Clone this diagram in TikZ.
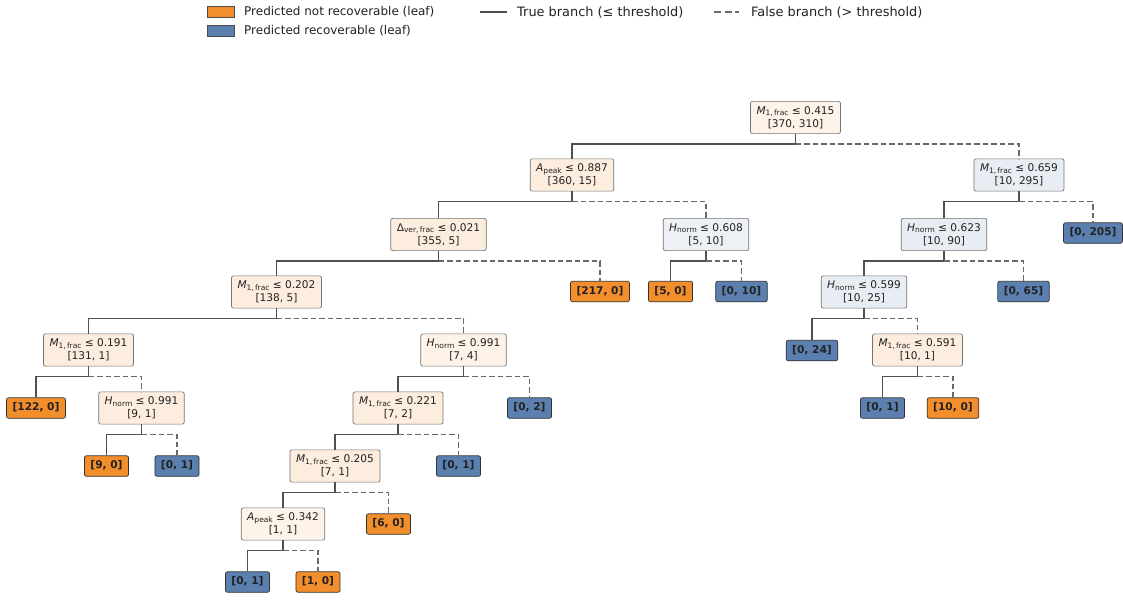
\documentclass[tikz,border=0pt]{standalone}
\usepackage{fontspec}
\setmainfont{DejaVu Sans}
\definecolor{leafO}{RGB}{242,142,43}
\definecolor{leafB}{RGB}{91,128,176}
\definecolor{peach}{RGB}{253,237,222}
\definecolor{peachL}{RGB}{254,243,233}
\definecolor{bluish}{RGB}{232,237,243}
\definecolor{bluishL}{RGB}{237,241,245}
\definecolor{edgec}{RGB}{80,80,80}
\definecolor{txt}{RGB}{34,34,34}
\newcommand{\sbx}[1]{\raisebox{-0.3ex}{\fontsize{7.5}{8}\selectfont #1}}
\newcommand{\Mf}{\textit{M}\sbx{1,\,frac}}
\newcommand{\Hn}{\textit{H}\sbx{norm}}
\newcommand{\Ap}{\textit{A}\sbx{peak}}
\newcommand{\Dv}{Δ\sbx{ver,\,frac}}
\tikzset{
  inner/.style={draw=black!55, line width=0.7pt, rounded corners=2pt, align=center,
    font=\fontsize{10.6}{13}\selectfont, text=txt, inner xsep=6pt, inner ysep=5pt},
  leafo/.style={draw=black!80, line width=0.7pt, rounded corners=2pt, fill=leafO,
    font=\fontsize{10.6}{13}\selectfont\bfseries, text=txt, inner xsep=6pt, inner ysep=5pt,
    text height=8pt, text depth=2.5pt},
  leafb/.style={leafo, fill=leafB},
  tb/.style={draw=edgec, line width=1.1pt},
  fb/.style={draw=edgec!85, line width=1.1pt, dash pattern=on 5.5pt off 3pt},
  legtxt/.style={font=\fontsize{12}{14}\selectfont, text=txt, anchor=west, inner sep=0pt}
}
\newcommand{\split}[3]{%
  \coordinate (#1m) at ([yshift=-26.5pt]#1.center);
  \draw[tb] (#1.south) -- (#1m) -| (#2.north);
  \draw[fb] (#1m) -| (#3.north);}
\begin{document}
\begin{tikzpicture}[x=1pt,y=-1pt]
\useasboundingbox (0,0) rectangle (1123,599);
\fill[white] (0,0) rectangle (1123,599);
% legend
\node[draw=black!70, line width=0.5pt, fill=leafO, minimum width=27pt, minimum height=11pt, inner sep=0pt] (sw1) at (220.5,12) {};
\node[legtxt] (lt1) at (244,12) {Predicted not recoverable (leaf)};
\node[draw=black!70, line width=0.5pt, fill=leafB, minimum width=27pt, minimum height=11pt, inner sep=0pt] (sw2) at (220.5,31) {};
\node[legtxt] (lt2) at (244,31) {Predicted recoverable (leaf)};
\coordinate (ls1) at (480,12); \coordinate (ls2) at (507,12);
\draw[tb] (ls1) -- (ls2);
\node[legtxt, font=\fontsize{12.9}{14}\selectfont] (lt3) at (517,12) {True branch (≤ threshold)};
\coordinate (ld1) at (714,12); \coordinate (ld2) at (738.5,12);
\draw[fb, dash pattern=on 7.3pt off 3.4pt] (ld1) -- (ld2);
\node[legtxt, font=\fontsize{12.9}{14}\selectfont] (lt4) at (751,12) {False branch (> threshold)};
% nodes
\node[inner, fill=peachL] (n0) at (795.5,117.5) {\Mf{} ≤ 0.415\\{}[370, 310]};
\node[inner, fill=peach] (n1) at (572,175) {\Ap{} ≤ 0.887\\{}[360, 15]};
\node[inner, fill=bluish] (n2) at (1019,175) {\Mf{} ≤ 0.659\\{}[10, 295]};
\node[inner, fill=peach] (n3) at (438.5,234.5) {\Dv{} ≤ 0.021\\{}[355, 5]};
\node[inner, fill=bluishL] (n4) at (706,234.5) {\Hn{} ≤ 0.608\\{}[5, 10]};
\node[inner, fill=bluish] (n5) at (944,234.5) {\Hn{} ≤ 0.623\\{}[10, 90]};
\node[leafb] (l205) at (1093,233) {[0, 205]};
\node[inner, fill=peach] (n6) at (276.5,292) {\Mf{} ≤ 0.202\\{}[138, 5]};
\node[leafo] (l217) at (600,291.5) {[217, 0]};
\node[leafo] (l50) at (670.5,291.5) {[5, 0]};
\node[leafb] (l010) at (741.5,291.5) {[0, 10]};
\node[inner, fill=bluish] (n7) at (864,292) {\Hn{} ≤ 0.599\\{}[10, 25]};
\node[leafb] (l065) at (1023.5,291.5) {[0, 65]};
\node[inner, fill=peach] (n8) at (88.5,350) {\Mf{} ≤ 0.191\\{}[131, 1]};
\node[inner, fill=peachL] (n9) at (463.5,350) {\Hn{} ≤ 0.991\\{}[7, 4]};
\node[leafb] (l024) at (812,350.5) {[0, 24]};
\node[inner, fill=peach] (n10) at (917.5,350) {\Mf{} ≤ 0.591\\{}[10, 1]};
\node[leafo] (l1220) at (36,408) {[122, 0]};
\node[inner, fill=peach] (n11) at (141.5,408) {\Hn{} ≤ 0.991\\{}[9, 1]};
\node[inner, fill=peach] (n12) at (398,408) {\Mf{} ≤ 0.221\\{}[7, 2]};
\node[leafb] (l02) at (529.5,408) {[0, 2]};
\node[leafb] (l01a) at (882.5,408) {[0, 1]};
\node[leafo] (l100) at (953,408) {[10, 0]};
\node[leafo] (l90) at (106.5,466) {[9, 0]};
\node[leafb] (l01b) at (177,466) {[0, 1]};
\node[inner, fill=peach] (n13) at (335,466) {\Mf{} ≤ 0.205\\{}[7, 1]};
\node[leafb] (l01c) at (458.5,466) {[0, 1]};
\node[inner, fill=peachL] (n14) at (283,524) {\Ap{} ≤ 0.342\\{}[1, 1]};
\node[leafo] (l60) at (388.5,524) {[6, 0]};
\node[leafb] (l01d) at (247.5,582) {[0, 1]};
\node[leafo] (l10) at (318,582) {[1, 0]};
% edges
\split{n0}{n1}{n2}
\split{n1}{n3}{n4}
\split{n2}{n5}{l205}
\split{n3}{n6}{l217}
\split{n4}{l50}{l010}
\split{n5}{n7}{l065}
\split{n6}{n8}{n9}
\split{n7}{l024}{n10}
\split{n8}{l1220}{n11}
\split{n9}{n12}{l02}
\split{n10}{l01a}{l100}
\split{n11}{l90}{l01b}
\split{n12}{n13}{l01c}
\split{n13}{n14}{l60}
\split{n14}{l01d}{l10}
\end{tikzpicture}
\end{document}
